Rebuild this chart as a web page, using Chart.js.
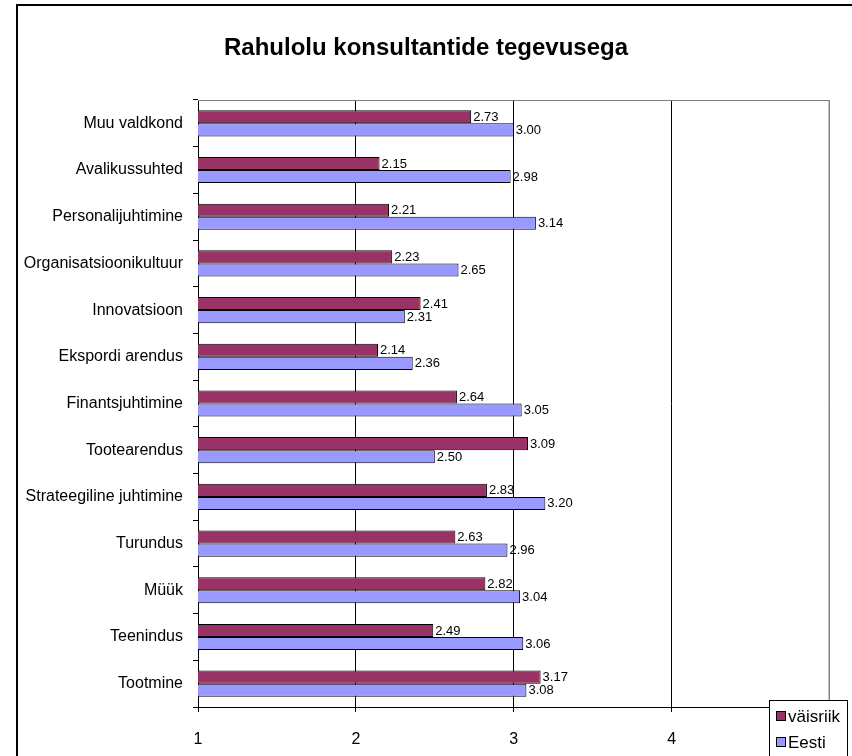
<!DOCTYPE html>
<html>
<head>
<meta charset="utf-8">
<script src="https://cdn.jsdelivr.net/npm/chart.js@4.4.1/dist/chart.umd.min.js"></script>
<style>
  html, body { margin: 0; padding: 0; background: #fff; }
  #wrap { position: relative; width: 852px; height: 756px; }
</style>
</head>
<body>
<div id="wrap"><canvas id="c" width="852" height="756"></canvas></div>
<script>
// Survey: satisfaction with consultants' work, by field
const chartTitle = 'Rahulolu konsultantide tegevusega';
const categories = [
  'Muu valdkond', 'Avalikussuhted', 'Personalijuhtimine', 'Organisatsioonikultuur',
  'Innovatsioon', 'Ekspordi arendus', 'Finantsjuhtimine', 'Tootearendus',
  'Strateegiline juhtimine', 'Turundus', 'Müük', 'Teenindus', 'Tootmine'
];
const seriesNames = ['väisriik', 'Eesti'];
const valuesVaisriik = [2.73, 2.15, 2.21, 2.23, 2.41, 2.14, 2.64, 3.09, 2.83, 2.63, 2.82, 2.49, 3.17];
const valuesEesti    = [3.00, 2.98, 3.14, 2.65, 2.31, 2.36, 3.05, 2.50, 3.20, 2.96, 3.04, 3.06, 3.08];
const xTicks = [1, 2, 3, 4, 5];

const FONT = 'Arial, "Liberation Sans", sans-serif';

// outer frame, title, plot border
const framePlugin = {
  id: 'frame',
  beforeDraw(chart) {
    const ctx = chart.ctx;
    ctx.save();
    ctx.fillStyle = '#fff';
    ctx.fillRect(0, 0, chart.width, chart.height);
    ctx.strokeStyle = '#000';
    ctx.lineWidth = 2;
    ctx.beginPath();
    ctx.moveTo(17, chart.height + 2);
    ctx.lineTo(17, 5);
    ctx.lineTo(chart.width + 2, 5);
    ctx.stroke();
    ctx.fillStyle = '#000';
    ctx.font = 'bold 24px ' + FONT;
    ctx.textAlign = 'center';
    ctx.textBaseline = 'middle';
    ctx.fillText(chartTitle, 426, 48);
    ctx.restore();
  },
  afterDatasetsDraw(chart) {
    const a = chart.chartArea;
    const ctx = chart.ctx;
    ctx.save();
    ctx.strokeStyle = '#808080';
    ctx.lineWidth = 1;
    ctx.beginPath();
    ctx.moveTo(a.left, a.top + 0.5);
    ctx.lineTo(a.right - 0.5, a.top + 0.5);
    ctx.lineTo(a.right - 0.5, a.bottom);
    ctx.stroke();
    ctx.restore();
  }
};

// value labels at the end of each bar
const valueLabels = {
  id: 'valueLabels',
  afterDatasetsDraw(chart) {
    const ctx = chart.ctx;
    ctx.save();
    ctx.font = '13px ' + FONT;
    ctx.fillStyle = '#000';
    ctx.textAlign = 'left';
    ctx.textBaseline = 'middle';
    chart.data.datasets.forEach((ds, di) => {
      chart.getDatasetMeta(di).data.forEach((el, i) => {
        ctx.fillText(ds.data[i].toFixed(2), el.x + 2, el.y + 0.5);
      });
    });
    ctx.restore();
  }
};

// legend box in the lower right corner
const legendBox = {
  id: 'legendBox',
  afterDraw(chart) {
    const ctx = chart.ctx;
    ctx.save();
    const x = 769.5, y = 700.5, w = 78, h = 70;
    ctx.fillStyle = '#fff';
    ctx.fillRect(x, y, w, h);
    ctx.strokeStyle = '#000';
    ctx.lineWidth = 1;
    ctx.strokeRect(x, y, w, h);
    ctx.font = '17px ' + FONT;
    ctx.textBaseline = 'middle';
    chart.data.datasets.forEach((ds, i) => {
      const cy = 716 + i * 26;
      ctx.fillStyle = ds.backgroundColor;
      ctx.fillRect(776.5, cy - 4.5, 9, 9);
      ctx.strokeRect(776.5, cy - 4.5, 9, 9);
      ctx.fillStyle = '#000';
      ctx.fillText(ds.label, 788, cy + 1);
    });
    ctx.restore();
  }
};

new Chart(document.getElementById('c'), {
  type: 'bar',
  data: {
    labels: categories,
    datasets: [
      { label: seriesNames[0], data: valuesVaisriik, backgroundColor: '#993366', borderColor: '#000', borderWidth: 1 },
      { label: seriesNames[1], data: valuesEesti, backgroundColor: '#9999FF', borderColor: '#000', borderWidth: 1 }
    ]
  },
  options: {
    indexAxis: 'y',
    responsive: false,
    animation: false,
    devicePixelRatio: 1,
    layout: { padding: { left: 0, right: 17, top: 100, bottom: 0 } },
    datasets: { bar: { categoryPercentage: 0.56, barPercentage: 1.0 } },
    plugins: { legend: { display: false }, title: { display: false }, tooltip: { enabled: false } },
    scales: {
      x: {
        type: 'linear',
        min: xTicks[0],
        max: xTicks[xTicks.length - 1],
        afterBuildTicks(scale) { scale.ticks = xTicks.map(v => ({ value: v })); },
        afterFit(scale) { scale.height = 49; },
        border: { color: '#000', width: 1 },
        grid: {
          drawOnChartArea: true,
          color: c => (c.tick && c.tick.value === xTicks[0]) ? 'rgba(0,0,0,0)' : (c.tick && c.tick.value === xTicks[xTicks.length - 1] ? '#808080' : '#000'),
          tickColor: '#000',
          tickLength: 5,
          lineWidth: 1
        },
        ticks: { color: '#000', font: { family: FONT, size: 16 }, padding: 18, maxRotation: 0 }
      },
      y: {
        type: 'category',
        offset: true,
        afterFit(scale) { scale.width = 198; },
        border: { color: '#000', width: 1 },
        grid: { offset: true, drawOnChartArea: false, tickColor: '#000', tickLength: 5 },
        ticks: { color: '#000', font: { family: FONT, size: 16 }, padding: 10, autoSkip: false }
      }
    }
  },
  plugins: [framePlugin, valueLabels, legendBox]
});
</script>
</body>
</html>
